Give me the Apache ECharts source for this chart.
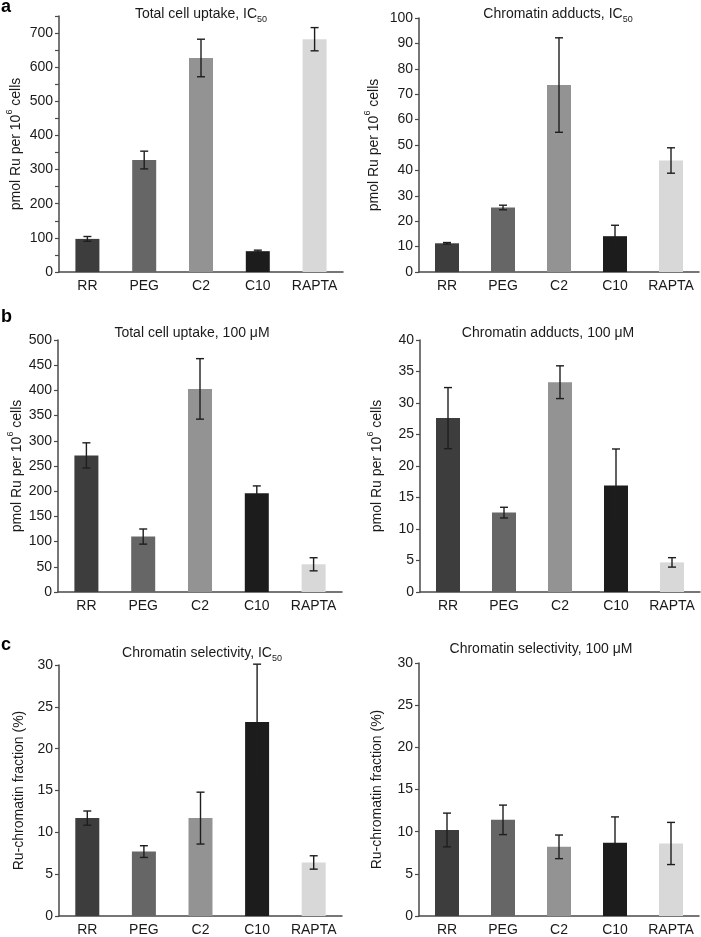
<!DOCTYPE html>
<html>
<head>
<meta charset="utf-8">
<script src="https://cdn.jsdelivr.net/npm/echarts@6/dist/echarts.min.js"></script>
<style>
html,body{margin:0;padding:0;background:#fff;}
#chart{width:701px;height:937px;}
</style>
</head>
<body>
<div id="chart"></div>
<script>
const categories = ['RR', 'PEG', 'C2', 'C10', 'RAPTA'];
const barColors = ['#3d3d3d', '#666666', '#939393', '#1c1c1c', '#d8d8d8'];

const uptakeIC50 = [97, 328, 627, 61, 682];
const uptakeIC50Err = [7, 26, 55, 3, 34];
const adductsIC50 = [11.3, 25.4, 73.6, 14.1, 43.9];
const adductsIC50Err = [0.3, 0.9, 18.6, 4.3, 5.0];
const uptake100 = [271, 110, 403, 196, 55];
const uptake100Err = [25, 15, 60, 14.5, 13];
const adducts100 = [27.6, 12.6, 33.3, 16.9, 4.7];
const adducts100Err = [4.85, 0.85, 2.6, 5.8, 0.75];
const selectIC50 = [11.7, 7.7, 11.7, 23.2, 6.4];
const selectIC50Err = [0.85, 0.7, 3.1, 6.9, 0.8];
const select100 = [10.2, 11.4, 8.2, 8.7, 8.6];
const select100Err = [2.0, 1.75, 1.4, 3.05, 2.5];

const FONT = 'Liberation Sans, Arial, Helvetica, sans-serif';
const TXT = '#1a1a1a';
const AX = '#4a4a4a';

const panels = [
  {vals: uptakeIC50, errs: uptakeIC50Err, max: 750, interval: 50, labelStep: 100, name: 'pmol', grid: {left: 59, top: 16, width: 284, height: 256}, gap: 36},
  {vals: adductsIC50, errs: adductsIC50Err, max: 100, interval: 10, labelStep: 10, name: 'pmol', grid: {left: 419, top: 18, width: 280, height: 254}, gap: 38},
  {vals: uptake100, errs: uptake100Err, max: 500, interval: 50, labelStep: 50, name: 'pmol', grid: {left: 58, top: 340, width: 284, height: 252}, gap: 34},
  {vals: adducts100, errs: adducts100Err, max: 40, interval: 5, labelStep: 5, name: 'pmol', grid: {left: 420, top: 340, width: 280, height: 252}, gap: 36},
  {vals: selectIC50, errs: selectIC50Err, max: 30, interval: 5, labelStep: 5, name: 'frac', grid: {left: 59, top: 665, width: 283, height: 253}, gap: 33},
  {vals: select100, errs: select100Err, max: 30, interval: 5, labelStep: 5, name: 'frac', grid: {left: 419, top: 663, width: 280, height: 255}, gap: 35}
];

const nameRich = {
  n: {fontSize: 14, fontFamily: FONT, color: TXT, lineHeight: 18, verticalAlign: 'bottom'},
  s: {fontSize: 9, fontFamily: FONT, color: TXT, lineHeight: 18, verticalAlign: 'top'}
};

const grids = [], xAxes = [], yAxes = [], series = [];
panels.forEach((p, i) => {
  grids.push(Object.assign({}, p.grid));
  xAxes.push({
    type: 'category', gridIndex: i, data: categories,
    axisLine: {lineStyle: {color: AX, width: 1.5}},
    axisTick: {show: false},
    axisLabel: {color: TXT, fontSize: 14, fontFamily: FONT, margin: 7, interval: 0}
  });
  yAxes.push({
    type: 'value', gridIndex: i, min: 0, max: p.max, interval: p.interval,
    axisLine: {show: true, lineStyle: {color: AX, width: 1.5}},
    axisTick: {show: true, length: 4, lineStyle: {color: AX, width: 1.2}},
    splitLine: {show: false},
    axisLabel: {
      color: TXT, fontSize: 14, fontFamily: FONT, margin: 6,
      formatter: (v) => (Math.round(v) % p.labelStep === 0 ? String(v) : '')
    },
    name: p.name === 'pmol' ? '{n|pmol Ru per 10}{s|6}{n| cells}' : 'Ru-chromatin fraction (%)',
    nameLocation: 'middle', nameGap: p.gap, nameRotate: 90,
    nameTextStyle: {fontSize: 14, fontFamily: FONT, color: TXT, rich: nameRich}
  });
  series.push({
    type: 'bar', xAxisIndex: i, yAxisIndex: i, barWidth: 24,
    data: p.vals.map((v, k) => ({value: v, itemStyle: {color: barColors[k]}})),
    animation: false
  });
  series.push({
    type: 'custom', xAxisIndex: i, yAxisIndex: i, z: 5,
    data: p.vals.map((v, k) => [k, v, p.errs[k]]),
    renderItem: function (params, api) {
      const idx = api.value(0), v = api.value(1), e = api.value(2);
      const hi = api.coord([idx, v + e]);
      const lo = api.coord([idx, v - e]);
      const hw = 4;
      const st = {stroke: '#1e1e1e', lineWidth: 1.4};
      return {
        type: 'group',
        children: [
          {type: 'line', shape: {x1: hi[0], y1: hi[1], x2: lo[0], y2: lo[1]}, style: st},
          {type: 'line', shape: {x1: hi[0] - hw, y1: hi[1], x2: hi[0] + hw, y2: hi[1]}, style: st},
          {type: 'line', shape: {x1: lo[0] - hw, y1: lo[1], x2: lo[0] + hw, y2: lo[1]}, style: st}
        ]
      };
    },
    animation: false
  });
});

const titleRich = {
  t: {fontSize: 14, fontFamily: FONT, fill: TXT, color: TXT, lineHeight: 18, verticalAlign: 'bottom'},
  u: {fontSize: 9, fontFamily: FONT, fill: TXT, color: TXT, lineHeight: 18, verticalAlign: 'bottom', padding: [0, 0, -3, 0]}
};
function titleText(txt, x, y) {
  return {
    type: 'text', x: x, y: y,
    style: {text: txt, align: 'center', verticalAlign: 'middle', rich: titleRich, fill: TXT, font: '14px ' + FONT}
  };
}
function letter(txt, x, y) {
  return {
    type: 'text', x: x, y: y,
    style: {text: txt, fill: '#000', font: 'bold 18px ' + FONT, align: 'left', verticalAlign: 'middle'}
  };
}

const option = {
  backgroundColor: '#ffffff',
  animation: false,
  grid: grids,
  xAxis: xAxes,
  yAxis: yAxes,
  series: series,
  graphic: [
    titleText('{t|Total cell uptake, IC}{u|50}', 201, 12),
    titleText('{t|Chromatin adducts, IC}{u|50}', 558, 12),
    titleText('{t|Total cell uptake, 100 \u03bcM}', 192, 331),
    titleText('{t|Chromatin adducts, 100 \u03bcM}', 548, 331),
    titleText('{t|Chromatin selectivity, IC}{u|50}', 202, 651),
    titleText('{t|Chromatin selectivity, 100 \u03bcM}', 541, 647),
    letter('a', 1, 7),
    letter('b', 1, 317),
    letter('c', 1, 645)
  ]
};

const chart = echarts.init(document.getElementById('chart'), null, {renderer: 'canvas'});
chart.setOption(option);
</script>
</body>
</html>
